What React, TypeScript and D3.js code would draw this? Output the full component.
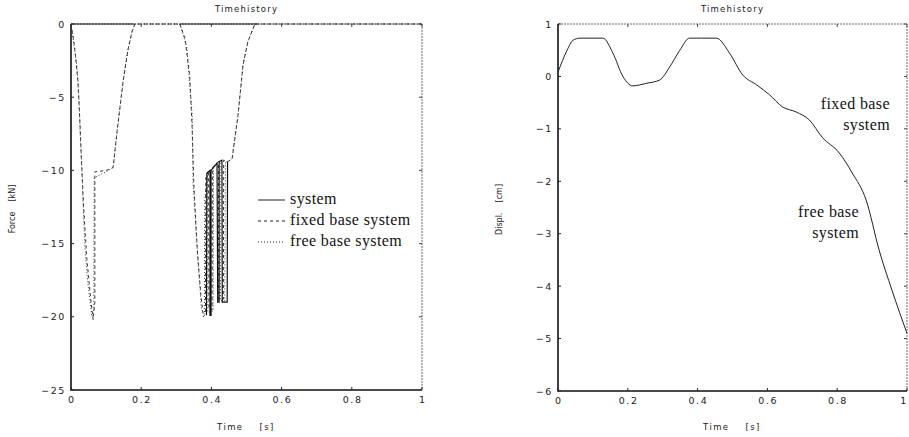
import React, { useEffect, useRef } from 'react';
import * as d3 from 'd3';

// time [s], force [kN] / displacement [cm]
const systemForce: [number, number][] = [
  [0, 0], [0.18, 0], [NaN, NaN],
  [0.31, 0], [0.53, 0], [NaN, NaN],
  [0.386, -19.9], [0.387, -10.2], [0.396, -10], [0.396, -19.9], [0.399, -19.9], [0.399, -10],
  [0.416, -9.5], [0.418, -19], [0.422, -19], [0.422, -9.4], [0.43, -9.3], [0.431, -19],
  [0.445, -19], [0.446, -9.4]
];
const fixedBaseForce: [number, number][] = [
  [0, 0], [0.01, -1.5], [0.02, -4], [0.026, -7], [0.03, -9.5], [0.036, -12.5], [0.045, -16],
  [0.055, -18.5], [0.063, -20.2], [0.068, -19], [0.068, -10.1], [0.1, -10], [0.12, -9.8],
  [0.131, -7.4], [0.148, -4], [0.162, -1.8], [0.174, -0.5], [0.182, 0], [0.31, 0],
  [0.325, -1], [0.338, -3.5], [0.345, -7], [0.35, -11], [0.36, -15.5], [0.37, -18.5],
  [0.377, -20], [0.383, -19.8], [0.384, -10.5], [0.392, -10], [0.393, -19.5], [0.402, -19.5],
  [0.403, -9.8], [0.42, -9.4], [0.421, -18.8], [0.434, -18.8], [0.435, -9.3], [0.447, -9.4],
  [0.459, -9.2], [0.476, -6.2], [0.49, -2.8], [0.504, -1.2], [0.524, 0], [1, 0]
];
const freeBaseForce: [number, number][] = [
  [0, 0], [0.017, -2.9], [0.023, -5.2], [0.026, -7.4], [0.031, -9.8], [0.034, -12],
  [0.04, -15.4], [0.048, -17.7], [0.06, -20], [0.065, -19.5], [0.066, -10.5], [0.1, -10.1],
  [0.12, -9.8], [0.131, -7.4], [0.148, -4], [0.162, -1.8], [0.174, -0.5], [0.182, 0],
  [0.31, 0], [0.33, -1.6], [0.345, -6.2], [0.348, -10.9], [0.362, -16.3], [0.372, -19.5],
  [0.38, -19.8], [0.381, -12], [0.389, -10.3], [0.39, -19.7], [0.405, -19.6], [0.406, -9.7],
  [0.425, -9.4], [0.426, -18.9], [0.438, -18.9], [0.44, -9.4], [0.447, -9.4], [0.459, -9.2],
  [0.476, -6.2], [0.49, -2.8], [0.504, -1.2], [0.524, 0], [1, 0]
];
const displacement: [number, number][] = [
  [0, 0.08], [0.026, 0.5], [0.043, 0.69], [0.063, 0.73], [0.129, 0.73], [0.157, 0.45],
  [0.186, 0.0], [0.214, -0.18], [0.254, -0.13], [0.291, -0.07], [0.32, 0.18], [0.349, 0.5],
  [0.377, 0.73], [0.411, 0.73], [0.454, 0.73], [0.491, 0.45], [0.529, 0.03], [0.569, -0.16],
  [0.606, -0.35], [0.643, -0.58], [0.683, -0.68], [0.72, -0.83], [0.757, -1.16],
  [0.806, -1.46], [0.843, -1.84], [0.883, -2.36], [0.92, -3.31], [0.957, -4.08], [1, -4.9]
];

const timeTicks = [0, 0.2, 0.4, 0.6, 0.8, 1];
const forceTicks = [0, -5, -10, -15, -20, -25];
const displTicks = [1, 0, -1, -2, -3, -4, -5, -6];

const legendNames = ['system', 'fixed base system', 'free base system'];
const legendDash = [null, '3,3', '1,2'];

const tickFont = 'DejaVu Sans';
const serif = 'Liberation Serif';

function fmt(v: number) {
  if (v < 0) return '\u2212' + String(-v);
  return String(v);
}

function drawFrame(g: any, x: any, y: any, yTicks: number[], yLabel: string) {
  const [x0, x1] = x.range();
  const [y0, y1] = y.range(); // y0 bottom, y1 top

  // top / right border (faint, broken)
  g.append('path')
    .attr('d', `M${x0},${y1}H${x1}V${y0}`)
    .attr('fill', 'none')
    .attr('stroke', '#444')
    .attr('stroke-width', 0.8)
    .attr('stroke-dasharray', '2,1');
  // left / bottom axis
  g.append('path')
    .attr('d', `M${x0},${y1}V${y0}H${x1}`)
    .attr('fill', 'none')
    .attr('stroke', '#111')
    .attr('stroke-width', 1.6);

  timeTicks.forEach((t) => {
    g.append('line').attr('x1', x(t)).attr('x2', x(t)).attr('y1', y0).attr('y2', y0 - 3)
      .attr('stroke', '#222');
    g.append('line').attr('x1', x(t)).attr('x2', x(t)).attr('y1', y1).attr('y2', y1 + 3)
      .attr('stroke', '#444');
    g.append('text')
      .attr('x', Math.min(x(t) + 0.8, 904)).attr('y', y0 + 13)
      .attr('text-anchor', 'middle')
      .attr('font-family', tickFont).attr('font-size', 9.5).attr('letter-spacing', 1.6)
      .attr('fill', '#222')
      .text(String(t));
  });
  yTicks.forEach((v) => {
    g.append('line').attr('x1', x0).attr('x2', x0 + 3).attr('y1', y(v)).attr('y2', y(v))
      .attr('stroke', '#222');
    g.append('line').attr('x1', x1).attr('x2', x1 - 3).attr('y1', y(v)).attr('y2', y(v))
      .attr('stroke', '#444');
    g.append('text')
      .attr('x', x0 - 5).attr('y', y(v) + 3.5)
      .attr('text-anchor', 'end')
      .attr('font-family', tickFont).attr('font-size', 9.5).attr('letter-spacing', 1.6)
      .attr('fill', '#222')
      .text(fmt(v));
  });

  const cx = (x0 + x1) / 2;
  g.append('text')
    .attr('x', cx).attr('y', 12)
    .attr('text-anchor', 'middle')
    .attr('font-family', tickFont).attr('font-size', 8.5).attr('letter-spacing', 1.2)
    .attr('fill', '#222')
    .text('Timehistory');
  g.append('text')
    .attr('x', cx - 3).attr('y', 430)
    .attr('text-anchor', 'end')
    .attr('font-family', tickFont).attr('font-size', 8.5).attr('letter-spacing', 1.4)
    .attr('fill', '#222')
    .text('Time');
  g.append('text')
    .attr('x', cx + 13).attr('y', 430)
    .attr('font-family', tickFont).attr('font-size', 8.5).attr('letter-spacing', 1.4)
    .attr('fill', '#222')
    .text('[s]');
  g.append('text')
    .attr('transform', `translate(${x0 - 56},${(y0 + y1) / 2 + 2}) rotate(-90)`)
    .attr('text-anchor', 'middle')
    .attr('font-family', tickFont).attr('font-size', 8)
    .attr('fill', '#222')
    .attr('xml:space', 'preserve')
    .style('white-space', 'pre')
    .text(yLabel);
}

export default function App() {
  const ref = useRef<SVGSVGElement>(null);

  useEffect(() => {
    const svg = d3.select(ref.current);
    svg.selectAll('*').remove();

    // ---- left: force ----
    const xL = d3.scaleLinear().domain([0, 1]).range([71, 422]);
    const yL = d3.scaleLinear().domain([-25, 0]).range([390, 24]);
    const left = svg.append('g');
    drawFrame(left, xL, yL, forceTicks, 'Force    [kN]');

    const lineL = d3.line<[number, number]>()
      .defined((d) => !isNaN(d[0]))
      .x((d) => xL(d[0]))
      .y((d) => yL(d[1]));

    left.append('path').attr('d', lineL(freeBaseForce)).attr('fill', 'none')
      .attr('stroke', '#333').attr('stroke-width', 1).attr('stroke-dasharray', '1,2');
    left.append('path').attr('d', lineL(fixedBaseForce)).attr('fill', 'none')
      .attr('stroke', '#333').attr('stroke-width', 1).attr('stroke-dasharray', '3,3');
    left.append('path').attr('d', lineL(systemForce)).attr('fill', 'none')
      .attr('stroke', '#111').attr('stroke-width', 1.2);

    // legend
    legendNames.forEach((name, i) => {
      const ly = 200 + i * 21;
      const ln = left.append('line')
        .attr('x1', 258).attr('x2', 285).attr('y1', ly).attr('y2', ly)
        .attr('stroke', '#222').attr('stroke-width', 1);
      if (legendDash[i]) ln.attr('stroke-dasharray', legendDash[i]);
      left.append('text')
        .attr('x', 290).attr('y', ly + 4)
        .attr('font-family', serif).attr('font-size', 16).attr('letter-spacing', 0.4)
        .attr('fill', '#111')
        .text(name);
    });

    // ---- right: displacement ----
    const xR = d3.scaleLinear().domain([0, 1]).range([558, 907]);
    const yR = d3.scaleLinear().domain([-6, 1]).range([391, 24]);
    const right = svg.append('g');
    drawFrame(right, xR, yR, displTicks, 'Displ.    [cm]');

    const lineR = d3.line<[number, number]>()
      .x((d) => xR(d[0]))
      .y((d) => yR(d[1]))
      .curve(d3.curveMonotoneX);
    right.append('path').attr('d', lineR(displacement)).attr('fill', 'none')
      .attr('stroke', '#222').attr('stroke-width', 1);

    const notes = [
      { x: 890, y: 109, t: 'fixed base' },
      { x: 890, y: 130, t: 'system' },
      { x: 859, y: 217, t: 'free base' },
      { x: 859, y: 238, t: 'system' }
    ];
    notes.forEach((n) => {
      right.append('text')
        .attr('x', n.x).attr('y', n.y)
        .attr('text-anchor', 'end')
        .attr('font-family', serif).attr('font-size', 16).attr('letter-spacing', 0.4)
        .attr('fill', '#111')
        .text(n.t);
    });
  }, []);

  return (
    <svg
      ref={ref}
      width={909}
      height={437}
      style={{ position: 'absolute', left: 0, top: 0, background: '#fff' }}
    />
  );
}
